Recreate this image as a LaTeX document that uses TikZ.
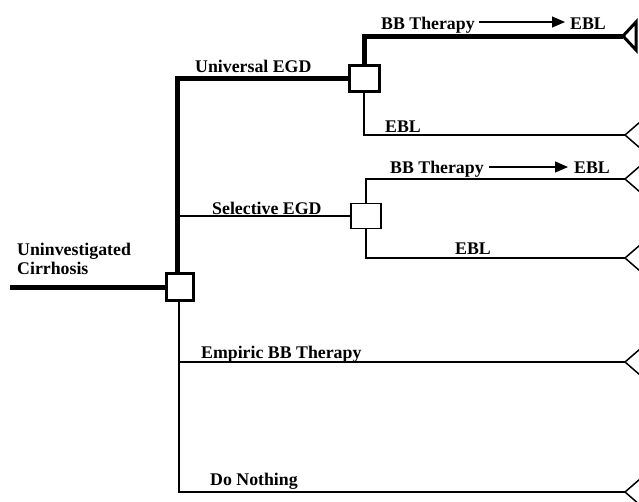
\documentclass[tikz,border=0pt]{standalone}
\usepackage{fontspec}
\setmainfont{Liberation Serif}
\usetikzlibrary{arrows.meta,calc}
\begin{document}
\begin{tikzpicture}[x=1pt,y=-1pt,
  lbl/.style={font=\fontsize{17.8}{16}\selectfont\bfseries, inner sep=0pt, anchor=base west},
  thickln/.style={line width=5pt},
  thinln/.style={line width=1.5pt},
  decthick/.style={draw, line width=3pt, fill=white, inner sep=0pt},
  decthin/.style={draw, line width=1.5pt, fill=white, minimum width=30pt, minimum height=25pt, inner sep=0pt},
  arr/.style={line width=1.2pt, -{Triangle[length=13pt,width=11pt]}}]
\useasboundingbox (0,0) rectangle (639,501);

% decision nodes
\node[decthick, minimum width=27pt, minimum height=27pt] (d0) at (180,287) {};
\node[decthick, minimum width=30pt, minimum height=26pt] (d1) at (364,78) {};
\node[decthin]  (d2) at (366,216) {};

% start and terminal points
\coordinate (s) at (10,287);
\coordinate (t1) at (623,36);
\coordinate (t2) at (625,135);
\coordinate (t3) at (625,179);
\coordinate (t4) at (625,258);
\coordinate (t5) at (625,362);
\coordinate (t6) at (625,492);

% thick path
\draw[thickln] (s) -- (d0.west);
\draw[thickln] (d0.north -| 177,0) |- (d1.west);
\draw[thickln] (d1.north) |- (t1);

% thin branches
\draw[thinln] (d1.south) |- (t2);
\draw[thinln] (177,216) -- (d2.west);
\draw[thinln] (d2.north) |- (t3);
\draw[thinln] (d2.south) |- (t4);
\draw[thinln] (d0.south -| 179,0) |- (t5);
\draw[thinln] (179,362) |- (t6);

% terminal triangles
\draw[line width=3pt, line join=miter] (t1) -- (636,22) -- (636,50) -- cycle;
\foreach \t in {t2,t3,t4,t5,t6}{
  \draw[thinln] ($(\t)+(15,-13)$) -- (\t) -- ($(\t)+(15,13)$);
}

% labels
\node[lbl] (u1) at (17,255) {Uninvestigated};
\node[lbl] (u2) at (17,274) {Cirrhosis};
\node[lbl] (ue) at (195,72) {Universal EGD};
\node[lbl] (se) at (212,214) {Selective EGD};
\node[lbl] (eb) at (201,358) {Empiric BB Therapy};
\node[lbl] (dn) at (210,485) {Do Nothing};

\node[lbl] (bb1) at (381,29) {BB Therapy};
\node[lbl] (e1) at (570,29) {EBL};
\draw[arr] (bb1.east |- 0,22) ++(4,0) -- (565,22);
\node[lbl] (e2) at (385,132) {EBL};

\node[lbl] (bb2) at (390,173) {BB Therapy};
\node[lbl] (e3) at (574,173) {EBL};
\draw[arr] (bb2.east |- 0,167) ++(5,0) -- (568,167);
\node[lbl] (e4) at (455,254) {EBL};
\end{tikzpicture}
\end{document}
